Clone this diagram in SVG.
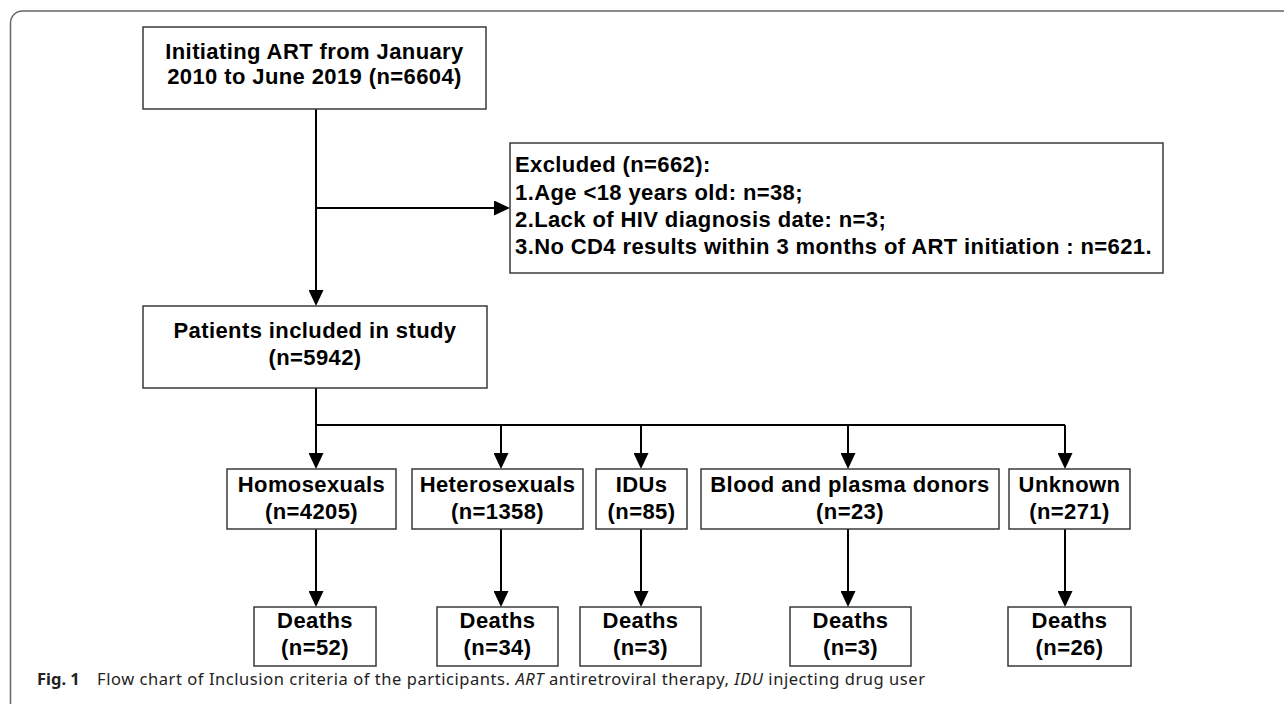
<svg xmlns="http://www.w3.org/2000/svg" width="1284" height="704" viewBox="0 0 1284 704">
<defs>
<marker id="arr" markerUnits="userSpaceOnUse" markerWidth="16" markerHeight="15" refX="12" refY="7.5" orient="auto">
<path d="M0,0 L16,7.5 L0,15 Z" fill="#000"/>
</marker>
<style>
.box{fill:#fff;stroke:#3a3a3a;stroke-width:1.5}
.t{font-family:"Liberation Sans",Arial,sans-serif;font-weight:bold;font-size:22px;letter-spacing:0.4px;fill:#000}
.c{text-anchor:middle}
.con{fill:none;stroke:#000;stroke-width:2}
.arr{marker-end:url(#arr)}
.cap{font-family:"Noto Sans","Open Sans",sans-serif;font-size:16.5px;fill:#222}
</style>
</defs>
<rect width="1284" height="704" fill="#fff"/>
<path d="M10.5 704 V23 A12 12 0 0 1 22.5 11 H1284" fill="none" stroke="#666" stroke-width="1.5"/>

<g id="connectors">
<path class="con arr" d="M316 109 V302"/>
<path class="con arr" d="M316 208 H506"/>
<path class="con arr" d="M316 388 V465"/>
<path class="con" d="M316 425 H1065"/>
<path class="con arr" d="M501 425 V465"/>
<path class="con arr" d="M641 425 V465"/>
<path class="con arr" d="M848 425 V465"/>
<path class="con arr" d="M1065 425 V465"/>
<path class="con arr" d="M316 529 V603"/>
<path class="con arr" d="M501 529 V603"/>
<path class="con arr" d="M641 529 V603"/>
<path class="con arr" d="M848 529 V603"/>
<path class="con arr" d="M1065 529 V603"/>
</g>

<g id="n-start">
<rect class="box" x="143" y="27" width="343" height="82"/>
<text class="t c" x="314.5" y="59">Initiating ART from January</text>
<text class="t c" x="314.5" y="84">2010 to June 2019 (n=6604)</text>
</g>

<g id="n-excluded">
<rect class="box" x="510" y="143" width="653" height="130"/>
<text class="t" x="515" y="172">Excluded (n=662):</text>
<text class="t" x="515" y="200">1.Age &lt;18 years old: n=38;</text>
<text class="t" x="515" y="227">2.Lack of HIV diagnosis date: n=3;</text>
<text class="t" x="515" y="254">3.No CD4 results within 3 months of ART initiation : n=621.</text>
</g>

<g id="n-included">
<rect class="box" x="143" y="306" width="344" height="82"/>
<text class="t c" x="315" y="338">Patients included in study</text>
<text class="t c" x="315" y="365">(n=5942)</text>
</g>

<g id="n-homo">
<rect class="box" x="227" y="469" width="169" height="60"/>
<text class="t c" x="311.5" y="492">Homosexuals</text>
<text class="t c" x="311.5" y="519">(n=4205)</text>
</g>
<g id="n-hetero">
<rect class="box" x="412" y="469" width="171" height="60"/>
<text class="t c" x="497.5" y="492">Heterosexuals</text>
<text class="t c" x="497.5" y="519">(n=1358)</text>
</g>
<g id="n-idu">
<rect class="box" x="596" y="469" width="91" height="60"/>
<text class="t c" x="641.5" y="492">IDUs</text>
<text class="t c" x="641.5" y="519">(n=85)</text>
</g>
<g id="n-blood">
<rect class="box" x="701" y="469" width="298" height="60"/>
<text class="t c" x="850" y="492">Blood and plasma donors</text>
<text class="t c" x="850" y="519">(n=23)</text>
</g>
<g id="n-unknown">
<rect class="box" x="1009" y="469" width="121" height="60"/>
<text class="t c" x="1069.5" y="492">Unknown</text>
<text class="t c" x="1069.5" y="519">(n=271)</text>
</g>

<g id="d-homo">
<rect class="box" x="254" y="607" width="122" height="59"/>
<text class="t c" x="315" y="628">Deaths</text>
<text class="t c" x="315" y="655">(n=52)</text>
</g>
<g id="d-hetero">
<rect class="box" x="437" y="607" width="121" height="59"/>
<text class="t c" x="497.5" y="628">Deaths</text>
<text class="t c" x="497.5" y="655">(n=34)</text>
</g>
<g id="d-idu">
<rect class="box" x="580" y="607" width="121" height="59"/>
<text class="t c" x="640.5" y="628">Deaths</text>
<text class="t c" x="640.5" y="655">(n=3)</text>
</g>
<g id="d-blood">
<rect class="box" x="790" y="607" width="121" height="59"/>
<text class="t c" x="850.5" y="628">Deaths</text>
<text class="t c" x="850.5" y="655">(n=3)</text>
</g>
<g id="d-unknown">
<rect class="box" x="1008" y="607" width="123" height="59"/>
<text class="t c" x="1069.5" y="628">Deaths</text>
<text class="t c" x="1069.5" y="655">(n=26)</text>
</g>

<g id="caption">
<text class="cap" x="37" y="685" font-weight="bold" font-size="18px">Fig. 1</text>
<text class="cap" x="97" y="685" textLength="828" lengthAdjust="spacing">Flow chart of Inclusion criteria of the participants. <tspan font-style="italic">ART</tspan> antiretroviral therapy, <tspan font-style="italic">IDU</tspan> injecting drug user</text>
</g>
</svg>
